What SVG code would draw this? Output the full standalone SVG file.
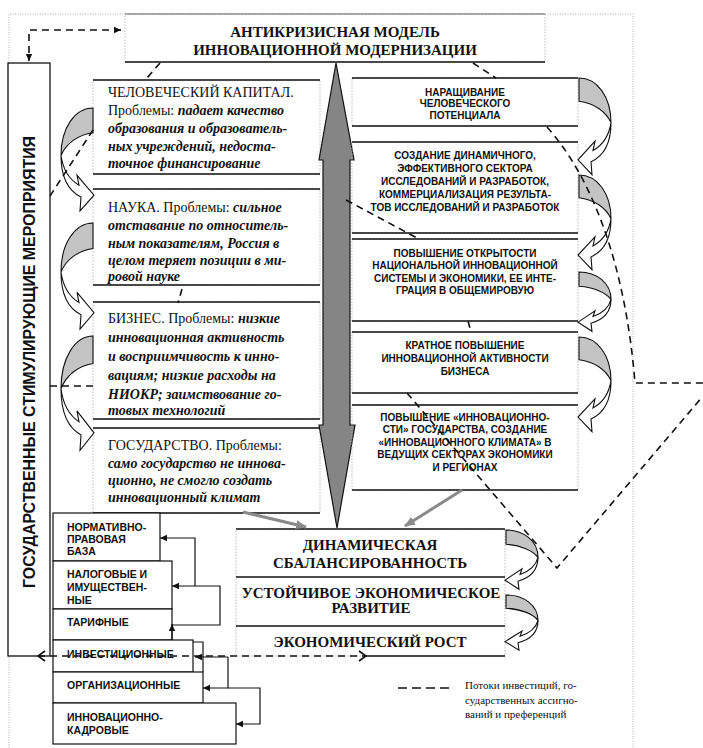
<svg xmlns="http://www.w3.org/2000/svg" width="703" height="748" viewBox="0 0 703 748">
<style>
.serif{font-family:"Liberation Serif","Times New Roman",serif;fill:#111}
.sans{font-family:"Liberation Sans",Arial,sans-serif;fill:#111}
.lt{font-size:14px}
.it{font-style:italic;font-weight:bold}
.rt{font-size:10px;font-weight:bold;text-anchor:middle}
.st{font-size:10.5px;font-weight:bold}
.ct{font-size:15px;font-weight:bold;text-anchor:middle}
.hl{stroke:#111;stroke-width:1.3}
.side{stroke:#aaa;stroke-width:0.8;stroke-dasharray:1.5 1.5;fill:#fff}
.sidet{stroke:#aaa;stroke-width:0.8;stroke-dasharray:1.5 1.5;fill:none}
.frame{stroke:#999;stroke-width:0.8;stroke-dasharray:1 1.5;fill:none}
.sbox{fill:#fff;stroke:#111;stroke-width:1.2}
.dash{fill:none;stroke:#111;stroke-width:1.6;stroke-dasharray:7 5}
.conn{fill:none;stroke:#111;stroke-width:1.2}
.garr{fill:none;stroke:#8a8a8a;stroke-width:3}
.cg{fill:#c4c4c4;stroke:#111;stroke-width:1.1}
.cw{fill:#fff;stroke:#111;stroke-width:1.1}
</style>
<defs>
<marker id="ah" markerWidth="8" markerHeight="8" refX="7" refY="4" orient="auto-start-reverse" markerUnits="userSpaceOnUse"><path d="M0,0.8 L7,4 L0,7.2 Z" fill="#111"/></marker>
<marker id="oh" markerWidth="10" markerHeight="12" refX="8" refY="6" orient="auto-start-reverse" markerUnits="userSpaceOnUse"><path d="M1,1 L8,6 L1,11" fill="none" stroke="#111" stroke-width="1.6"/></marker>
<marker id="gh" markerWidth="12" markerHeight="10" refX="10" refY="5" orient="auto" markerUnits="userSpaceOnUse"><path d="M0,0.5 L11,5 L0,9.5 Z" fill="#8a8a8a"/></marker>
<g id="carrow">
<path class="cg" vector-effect="non-scaling-stroke" d="M0,0 C-18,0 -32,20 -32,48 C-27,36 -15,27 0,25 Z"/>
<path class="cw" vector-effect="non-scaling-stroke" d="M-32,48 C-32,70 -24,84 -12,90 L-13,104 L1,88 L-16,68 L-14,78 C-24,72 -30,62 -32,48 Z"/>
</g>
</defs>
<rect width="703" height="748" fill="#fff"/>
<!-- outer frame -->
<path class="frame" d="M9,748 V14 H633 V748"/>

<!-- title -->
<g id="title">
<rect x="125" y="14" width="420" height="48" class="side"/>
<line x1="125" y1="14" x2="545" y2="14" stroke="#555" stroke-width="0.9"/>
<line x1="125" y1="62" x2="545" y2="62" class="hl"/>
<text class="serif ct" x="335" y="37">АНТИКРИЗИСНАЯ МОДЕЛЬ</text>
<text class="serif ct" x="335" y="55">ИННОВАЦИОННОЙ МОДЕРНИЗАЦИИ</text>
</g>

<!-- state measures vertical box -->
<g id="state">
<rect x="8" y="63" width="42" height="593" fill="#fff" stroke="#111" stroke-width="1.3"/>
<text class="sans" font-size="16" font-weight="bold" text-anchor="middle" transform="translate(35,362) rotate(-90)" textLength="452" lengthAdjust="spacingAndGlyphs">ГОСУДАРСТВЕННЫЕ СТИМУЛИРУЮЩИЕ МЕРОПРИЯТИЯ</text>
</g>

<!-- left problem boxes -->
<g id="human">
<rect x="93" y="80" width="227" height="94" class="side"/>
<line x1="93" y1="80" x2="320" y2="80" class="hl"/><line x1="93" y1="174" x2="320" y2="174" class="hl"/>
<text class="serif lt" x="108" y="97">ЧЕЛОВЕЧЕСКИЙ КАПИТАЛ.</text>
<text class="serif lt" x="108" y="115">Проблемы: <tspan class="it">падает качество</tspan></text>
<text class="serif lt it" x="108" y="133">образования и образователь-</text>
<text class="serif lt it" x="108" y="151">ных учреждений,  недоста-</text>
<text class="serif lt it" x="108" y="168">точное финансирование</text>
</g>
<g id="science">
<rect x="93" y="189" width="227" height="96" class="side"/>
<line x1="93" y1="189" x2="320" y2="189" class="hl"/><line x1="93" y1="285" x2="320" y2="285" class="hl"/>
<text class="serif lt" x="108" y="212">НАУКА. Проблемы: <tspan class="it">сильное</tspan></text>
<text class="serif lt it" x="108" y="230">отставание по относитель-</text>
<text class="serif lt it" x="108" y="248">ным показателям, Россия в</text>
<text class="serif lt it" x="108" y="265">целом теряет позиции в ми-</text>
<text class="serif lt it" x="108" y="281">ровой науке</text>
</g>
<g id="business">
<rect x="93" y="302" width="227" height="117" class="side"/>
<line x1="93" y1="302" x2="320" y2="302" class="hl"/><line x1="93" y1="419" x2="320" y2="419" class="hl"/>
<text class="serif lt" x="108" y="323">БИЗНЕС. Проблемы: <tspan class="it">низкие</tspan></text>
<text class="serif lt it" x="108" y="342">инновационная активность</text>
<text class="serif lt it" x="108" y="361">и восприимчивость к инно-</text>
<text class="serif lt it" x="108" y="380">вациям;  низкие расходы на</text>
<text class="serif lt it" x="108" y="399">НИОКР; заимствование го-</text>
<text class="serif lt it" x="108" y="415">товых технологий</text>
</g>
<g id="government">
<rect x="93" y="428" width="227" height="85" class="side"/>
<line x1="93" y1="428" x2="320" y2="428" class="hl"/><line x1="93" y1="513" x2="320" y2="513" class="hl"/>
<text class="serif lt" x="108" y="450">ГОСУДАРСТВО. Проблемы:</text>
<text class="serif lt it" x="108" y="468">само государство не иннова-</text>
<text class="serif lt it" x="108" y="485">ционно, не смогло создать</text>
<text class="serif lt it" x="108" y="502">инновационный климат</text>
</g>

<!-- big double arrow -->
<g id="bigarrow">
<path d="M336,63 L354,160 L350,160 L350,425 L355,425 L337,528 L319,425 L323,425 L323,160 L319,160 Z" fill="#858585" stroke="#111" stroke-width="1.2"/>
</g>

<!-- right task boxes -->
<g id="task1">
<rect x="352" y="78" width="226" height="48" class="sidet"/>
<line x1="352" y1="78" x2="578" y2="78" class="hl"/><line x1="352" y1="126" x2="578" y2="126" class="hl"/>
<text class="sans rt" x="465" y="95.5">НАРАЩИВАНИЕ</text>
<text class="sans rt" x="465" y="107">ЧЕЛОВЕЧЕСКОГО</text>
<text class="sans rt" x="465" y="118.5">ПОТЕНЦИАЛА</text>
</g>
<g id="task2">
<rect x="352" y="142" width="226" height="91" class="sidet"/>
<line x1="352" y1="142" x2="578" y2="142" class="hl"/><line x1="352" y1="233" x2="578" y2="233" class="hl"/>
<text class="sans rt" x="465" y="158.5">СОЗДАНИЕ ДИНАМИЧНОГО,</text>
<text class="sans rt" x="465" y="171.5">ЭФФЕКТИВНОГО СЕКТОРА</text>
<text class="sans rt" x="465" y="184.5">ИССЛЕДОВАНИЙ И РАЗРАБОТОК,</text>
<text class="sans rt" x="465" y="197.5">КОММЕРЦИАЛИЗАЦИЯ РЕЗУЛЬТА-</text>
<text class="sans rt" x="465" y="210.5">ТОВ ИССЛЕДОВАНИЙ И РАЗРАБОТОК</text>
</g>
<g id="task3">
<rect x="352" y="239" width="226" height="82" class="sidet"/>
<line x1="352" y1="239" x2="578" y2="239" class="hl"/><line x1="352" y1="321" x2="578" y2="321" class="hl"/>
<text class="sans rt" x="465" y="256.5">ПОВЫШЕНИЕ ОТКРЫТОСТИ</text>
<text class="sans rt" x="465" y="269">НАЦИОНАЛЬНОЙ ИННОВАЦИОННОЙ</text>
<text class="sans rt" x="465" y="281.5">СИСТЕМЫ И ЭКОНОМИКИ, ЕЕ ИНТЕ-</text>
<text class="sans rt" x="465" y="294">ГРАЦИЯ В ОБЩЕМИРОВУЮ</text>
</g>
<g id="task4">
<rect x="352" y="332" width="226" height="61" class="sidet"/>
<line x1="352" y1="332" x2="578" y2="332" class="hl"/><line x1="352" y1="393" x2="578" y2="393" class="hl"/>
<text class="sans rt" x="465" y="348.5">КРАТНОЕ ПОВЫШЕНИЕ</text>
<text class="sans rt" x="465" y="361.5">ИННОВАЦИОННОЙ АКТИВНОСТИ</text>
<text class="sans rt" x="465" y="374.5">БИЗНЕСА</text>
</g>
<g id="task5">
<rect x="352" y="405" width="226" height="85" class="sidet"/>
<line x1="352" y1="405" x2="578" y2="405" class="hl"/><line x1="352" y1="490" x2="578" y2="490" class="hl"/>
<text class="sans rt" x="465" y="420.5">ПОВЫШЕНИЕ «ИННОВАЦИОННО-</text>
<text class="sans rt" x="465" y="433">СТИ» ГОСУДАРСТВА, СОЗДАНИЕ</text>
<text class="sans rt" x="465" y="445.5">«ИННОВАЦИОННОГО КЛИМАТА» В</text>
<text class="sans rt" x="465" y="458">ВЕДУЩИХ СЕКТОРАХ ЭКОНОМИКИ</text>
<text class="sans rt" x="465" y="470.5">И РЕГИОНАХ</text>
</g>

<!-- results -->
<g id="results">
<rect x="236" y="529" width="269" height="127" class="sidet"/>
<line x1="236" y1="529" x2="505" y2="529" class="hl"/>
<line x1="236" y1="577" x2="505" y2="577" class="hl"/>
<line x1="236" y1="626" x2="505" y2="626" class="hl"/>
<line x1="366" y1="656" x2="505" y2="656" class="hl"/>
<text class="serif ct" x="370" y="550">ДИНАМИЧЕСКАЯ</text>
<text class="serif ct" x="370" y="568">СБАЛАНСИРОВАННОСТЬ</text>
<text class="serif ct" x="371" y="598">УСТОЙЧИВОЕ ЭКОНОМИЧЕСКОЕ</text>
<text class="serif ct" x="371" y="613">РАЗВИТИЕ</text>
<text class="serif ct" x="370" y="647">ЭКОНОМИЧЕСКИЙ РОСТ</text>
</g>

<!-- instrument boxes -->
<g id="instr-norm"><rect x="53" y="513" width="107" height="48" class="sbox"/>
<text class="sans st" x="67" y="531">НОРМАТИВНО-</text><text class="sans st" x="67" y="543">ПРАВОВАЯ</text><text class="sans st" x="67" y="555">БАЗА</text></g>
<g id="instr-tax"><rect x="53" y="561" width="119" height="48" class="sbox"/>
<text class="sans st" x="67" y="578">НАЛОГОВЫЕ И</text><text class="sans st" x="67" y="591">ИМУЩЕСТВЕН-</text><text class="sans st" x="67" y="604">НЫЕ</text></g>
<g id="instr-tariff"><rect x="53" y="609" width="119" height="31" class="sbox"/>
<text class="sans st" x="67" y="626">ТАРИФНЫЕ</text></g>
<g id="instr-invest"><path d="M193,642 H203 V672" class="conn"/><rect x="53" y="640" width="140" height="32" class="sbox"/>
<text class="sans st" x="67" y="658">ИНВЕСТИЦИОННЫЕ</text></g>
<g id="instr-org"><rect x="53" y="672" width="150" height="31" class="sbox"/>
<text class="sans st" x="67" y="689">ОРГАНИЗАЦИОННЫЕ</text></g>
<g id="instr-innov"><rect x="53" y="703" width="183" height="41" class="sbox"/>
<text class="sans st" x="67" y="721">ИННОВАЦИОННО-</text><text class="sans st" x="67" y="734">КАДРОВЫЕ</text></g>

<!-- curved arrows -->
<g id="curved">
<use href="#carrow" transform="translate(93,108) scale(1,0.99)"/>
<use href="#carrow" transform="translate(93,223) scale(1,1.02)"/>
<use href="#carrow" transform="translate(93,336) scale(1,1.1)"/>
<use href="#carrow" transform="translate(579,78) scale(-1,0.93)"/>
<use href="#carrow" transform="translate(579,175) scale(-1,0.91)"/>
<use href="#carrow" transform="translate(579,272) scale(-1,0.57)"/>
<use href="#carrow" transform="translate(579,337) scale(-1,0.91)"/>
<use href="#carrow" transform="translate(506,530) scale(-1,0.57)"/>
<use href="#carrow" transform="translate(506,595) scale(-1,0.53)"/>
</g>

<!-- connectors -->
<g id="connectors">
<path class="dash" d="M121,30 H29 V61" marker-start="url(#ah)" marker-end="url(#ah)"/>
<path class="dash" d="M160,63 L147,78"/>
<path class="dash" d="M93,130 L50,196"/>
<path class="dash" d="M50,386 H93"/>
<path class="dash" d="M182,289 L178,303"/>
<path class="dash" d="M473,63 L496,78"/>
<path class="dash" d="M547,127 C590,175 625,260 635,383 H703"/>
<path class="dash" d="M346,200 L417,238"/>
<path class="dash" d="M468,321 L471,332"/>
<path class="dash" d="M407,393 L557,568 L703,396"/>
<path class="dash" d="M38,656 H366" marker-start="url(#oh)" marker-end="url(#oh)"/>
<path class="garr" d="M243,512 L306,527" marker-end="url(#gh)"/>
<path class="garr" d="M462,490 L405,526" marker-end="url(#gh)"/>
<path class="conn" d="M195,586 V538 H160" marker-end="url(#ah)"/>
<path class="conn" d="M172,625 H220 V586 H172" marker-end="url(#ah)"/>
<path class="conn" d="M172,640 V624" marker-end="url(#ah)"/>
<path class="conn" d="M228,657 H195" marker-end="url(#ah)"/>
<path class="conn" d="M228,657 V688 H203" marker-end="url(#ah)"/>
<path class="conn" d="M228,688 H260 V724 H236" marker-end="url(#ah)"/>
</g>

<!-- legend -->
<g id="legend">
<line x1="398" y1="688" x2="452" y2="688" stroke="#111" stroke-width="1.6" stroke-dasharray="9 5"/>
<text class="serif" font-size="11" x="465" y="688.5">Потоки инвестиций, го-</text>
<text class="serif" font-size="11" x="465" y="704">сударственных ассигно-</text>
<text class="serif" font-size="11" x="465" y="718">ваний и преференций</text>
</g>
</svg>
